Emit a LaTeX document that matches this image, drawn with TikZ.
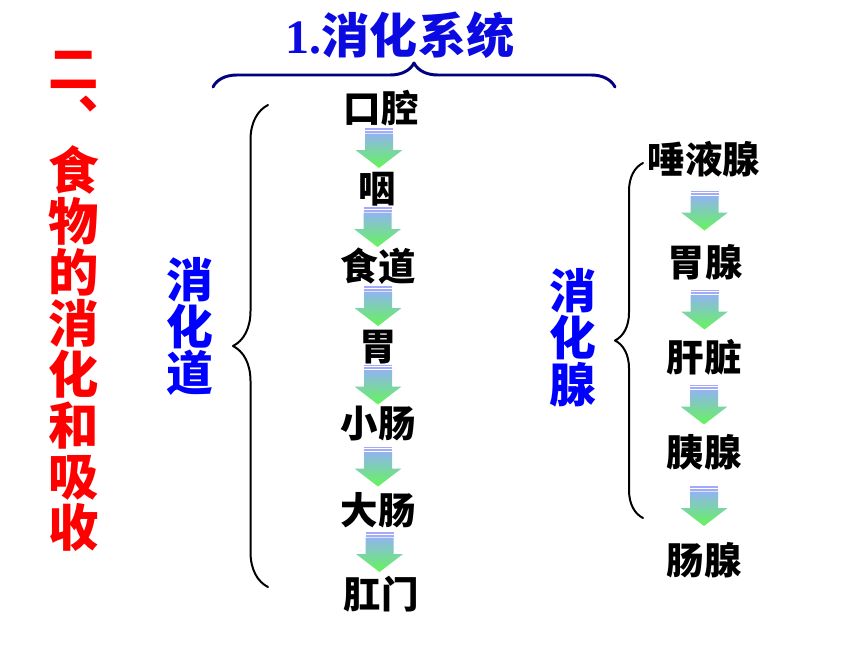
\documentclass[tikz,border=0pt]{standalone}
\usepackage{fontspec}
\newfontfamily\cjk{Noto Sans CJK SC}
\newfontfamily\titlenum{Liberation Serif}
\usepackage{tikz}
\usetikzlibrary{calc,decorations.pathreplacing}

\definecolor{sidered}{RGB}{255,0,0}
\definecolor{labelblue}{RGB}{0,0,255}
\definecolor{titleblue}{RGB}{10,10,225}
\definecolor{bracenavy}{RGB}{0,0,128}
\definecolor{stripeblue}{RGB}{165,170,248}
\definecolor{shafttop}{RGB}{145,180,240}
\definecolor{headgreen}{RGB}{100,245,90}

\tikzset{
  organ/.style={font=\cjk\fontsize{32}{32}\selectfont\bfseries,inner sep=0pt,text height=28.2pt,text depth=3.8pt},
  sidechar/.style={font=\cjk\fontsize{43}{43}\selectfont\bfseries,text=sidered,inner sep=0pt,text height=37.8pt,text depth=5.2pt},
  groupchar/.style={font=\cjk\fontsize{40}{40}\selectfont\bfseries,text=labelblue,inner sep=0pt,text height=35.2pt,text depth=4.8pt},
  headline/.style={font=\fontsize{41}{41}\selectfont\bfseries,text=titleblue,inner sep=0pt,text height=36pt,text depth=5pt},
  gutbrace/.style={decorate,line width=1.7pt,black},
  flowarrow/.pic={
    \fill[stripeblue] (-14,-20) rectangle (14,-18.5);
    \fill[stripeblue] (-14,-17.5) rectangle (14,-15.5);
    \shade[top color=shafttop,bottom color=headgreen] (-14,-14.5) -- (14,-14.5) -- (14,2) -- (23.5,2) -- (0,20) -- (-23.5,2) -- (-14,2) -- cycle;
  }
}

\begin{document}
\begin{tikzpicture}[line cap=round,line join=round,x=0.3mm,y=-0.3mm]
\useasboundingbox (0,0) rectangle (860,645);

% title and its brace
\node[headline] (title) at (400,35) {{\titlenum 1.}{\cjk 消化系统}};
\draw[bracenavy,line width=2.5pt,decorate,decoration={brace,amplitude=7.2mm}] (213,87) -- (615,87);

% red side heading
\foreach \ch [count=\k from 0] in {二,︑,食,物,的,消,化,和,吸,收}
  \node[sidechar] (side\k) at (74,68+51*\k) {\ch};

% blue group names
\foreach \ch [count=\k from 0] in {消,化,道}
  \node[groupchar] (tract\k) at (190,280+46.5*\k) {\ch};
\foreach \ch [count=\k from 0] in {消,化,腺}
  \node[groupchar] (gland\k) at (573,291+47*\k) {\ch};

% digestive tract
\node[organ] (mouth) at (381,108) {口腔};
\node[organ] (pharynx) at (377,188) {咽};
\node[organ] (esophagus) at (378,266) {食道};
\node[organ] (stomach) at (378,346) {胃};
\node[organ] (smallint) at (378,423) {小肠};
\node[organ] (largeint) at (378,510) {大肠};
\node[organ] (anus) at (381,594) {肛门};

% digestive glands
\node[organ] (saliva) at (704,159) {唾液腺};
\node[organ] (gastric) at (705,262) {胃腺};
\node[organ] (liver) at (704,357) {肝脏};
\node[organ] (pancreas) at (704,452) {胰腺};
\node[organ] (intgland) at (704,560) {肠腺};

% arrows
\pic at ($(mouth)!0.5!(pharynx)$) {flowarrow};
\pic at ($(pharynx)!0.5!(esophagus)$) {flowarrow};
\pic at ($(esophagus)!0.5!(stomach)$) {flowarrow};
\pic at ($(stomach)!0.5!(smallint)$) {flowarrow};
\pic at ($(smallint)!0.5!(largeint)$) {flowarrow};
\pic at ($(largeint)!0.5!(anus)$) {flowarrow};

\pic at ($(saliva)!0.5!(gastric)$) {flowarrow};
\pic at ($(gastric)!0.5!(liver)$) {flowarrow};
\pic at ($(liver)!0.5!(pancreas)$) {flowarrow};
\pic at ($(pancreas)!0.5!(intgland)$) {flowarrow};

% braces
\draw[gutbrace,decoration={brace,amplitude=10.5mm}] (268,587) -- (268,105);
\draw[gutbrace,decoration={brace,amplitude=8.4mm}] (643,518) -- (643,163);

\end{tikzpicture}
\end{document}
